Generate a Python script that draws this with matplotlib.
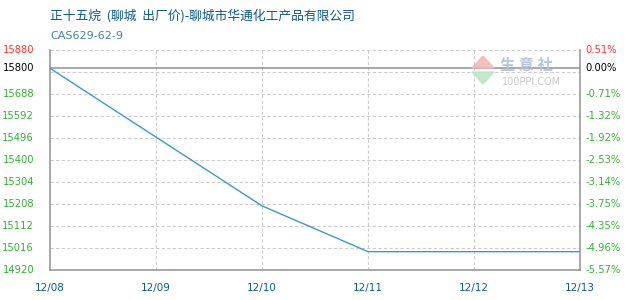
import numpy as np
import matplotlib.pyplot as plt
from matplotlib.patches import Polygon

plt.rcParams['font.family'] = ['Noto Sans CJK SC', 'DejaVu Sans']

dates = ['12/08', '12/09', '12/10', '12/11', '12/12', '12/13']
# data points (index into dates, price)
pt_x = [0, 2, 3, 4, 5]
pt_y = [15800, 15200, 15000, 15000, 15000]

base = 15800
y_min, y_step, n_steps = 14920, 96, 10
title = '正十五烷  (聊城  出厂价)-聊城市华通化工产品有限公司'
subtitle = 'CAS629-62-9'

fig = plt.figure(figsize=(6.3, 3.0), dpi=100)
ax = fig.add_axes([50 / 630, 30 / 300, 530 / 630, 220 / 300])

ticks = [y_min + y_step * i for i in range(n_steps + 1)]
y_max = ticks[-1]

ax.set_xlim(0, len(dates) - 1)
ax.set_ylim(y_min, y_max)

# grid
for t in ticks:
    ax.axhline(t, color='#cccccc', lw=0.8, ls=(0, (3, 2)), zorder=1)
for i in range(1, len(dates) - 1):
    ax.axvline(i, color='#cccccc', lw=0.8, ls=(0, (3, 2)), zorder=1)
ax.axhline(base, color='#999999', lw=1.2, zorder=2)

ax.plot(pt_x, pt_y, color='#3b97d6', lw=1.0, zorder=3)

for side in ['left', 'right', 'bottom']:
    ax.spines[side].set_color('#999999')
    ax.spines[side].set_linewidth(1.2)
ax.spines['top'].set_visible(False)

ax.set_xticks([])
ax.set_yticks([])

# left / right labels
lab_ticks = [t for t in ticks if abs(t - base) > 30]
for t in lab_ticks + [base]:
    if t == y_max:
        c = '#ff3333'
    elif t == base:
        c = 'black'
    else:
        c = '#33b033'
    ax.text(-0.03, t, str(t), transform=ax.get_yaxis_transform(), ha='right',
            va='center', fontsize=7.2, color=c, family='DejaVu Sans')
    pct = (t - base) / base * 100
    ax.text(1.01, t, '%.2f%%' % pct, transform=ax.get_yaxis_transform(), ha='left',
            va='center', fontsize=7.2, color=c, family='DejaVu Sans')

for i, d in enumerate(dates):
    ax.text(i, -0.06, d, transform=ax.get_xaxis_transform(), ha='center', va='top',
            fontsize=7.5, color='#0b5a8c', family='DejaVu Sans')

fig.text(50 / 630, 1 - 16 / 300, title, fontsize=9.2, color='#0b5a8c', va='center')
fig.text(50 / 630, 1 - 36 / 300, subtitle, fontsize=8, color='#4a80a8', va='center',
         family='DejaVu Sans')

# watermark
up = Polygon([[472 / 630, 1 - 68 / 300], [494 / 630, 1 - 68 / 300], [483 / 630, 1 - 56 / 300]],
             closed=True, transform=fig.transFigure, color='#f4b8b8', alpha=0.9, zorder=4)
dn = Polygon([[472 / 630, 1 - 72 / 300], [494 / 630, 1 - 72 / 300], [483 / 630, 1 - 84 / 300]],
             closed=True, transform=fig.transFigure, color='#bfe6c4', alpha=0.9, zorder=4)
fig.patches.extend([up, dn])
fig.text(500 / 630, 1 - 65 / 300, '生 意 社', fontsize=11, color='#b8c4dc', va='center',
         fontweight='bold')
fig.text(502 / 630, 1 - 82 / 300, '100PPI.COM', fontsize=7, color='#c8c8c8', va='center',
         family='DejaVu Sans')

fig.savefig('out.png', dpi=100)
